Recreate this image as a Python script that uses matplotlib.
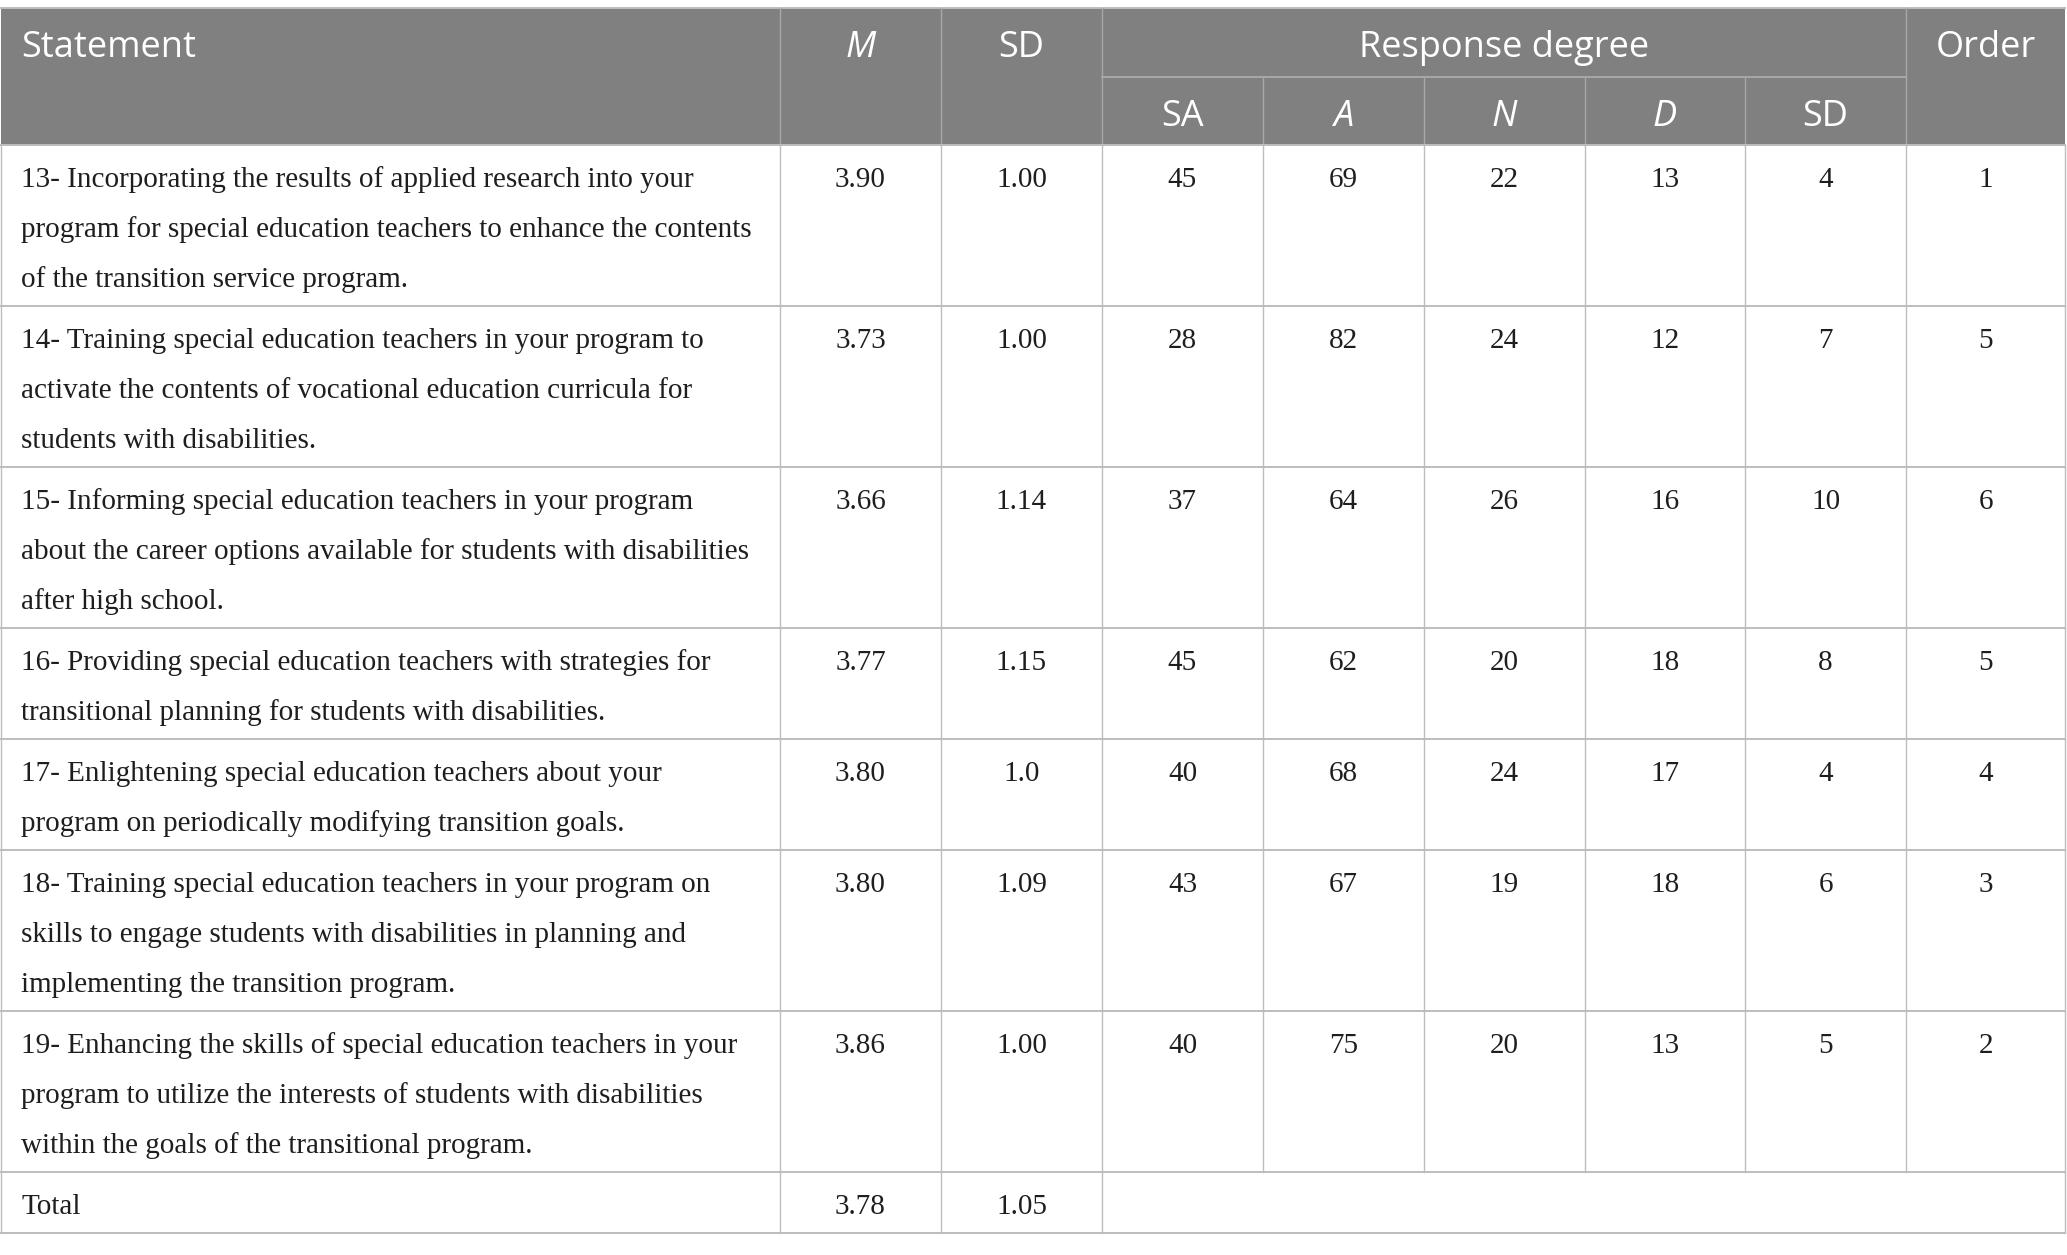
import matplotlib
matplotlib.use("Agg")
import matplotlib.pyplot as plt
from matplotlib.patches import Rectangle

# table content
statements = [
    ["13- Incorporating the results of applied research into your",
     "program for special education teachers to enhance the contents",
     "of the transition service program."],
    ["14- Training special education teachers in your program to",
     "activate the contents of vocational education curricula for",
     "students with disabilities."],
    ["15- Informing special education teachers in your program",
     "about the career options available for students with disabilities",
     "after high school."],
    ["16- Providing special education teachers with strategies for",
     "transitional planning for students with disabilities."],
    ["17- Enlightening special education teachers about your",
     "program on periodically modifying transition goals."],
    ["18- Training special education teachers in your program on",
     "skills to engage students with disabilities in planning and",
     "implementing the transition program."],
    ["19- Enhancing the skills of special education teachers in your",
     "program to utilize the interests of students with disabilities",
     "within the goals of the transitional program."],
]
means = ["3.90", "3.73", "3.66", "3.77", "3.80", "3.80", "3.86"]
sds = ["1.00", "1.00", "1.14", "1.15", "1.0", "1.09", "1.00"]
sa = [45, 28, 37, 45, 40, 43, 40]
agree = [69, 82, 64, 62, 68, 67, 75]
neutral = [22, 24, 26, 20, 24, 19, 20]
disagree = [13, 12, 16, 18, 17, 18, 13]
sdis = [4, 7, 10, 8, 4, 6, 5]
order = [1, 5, 6, 5, 4, 3, 2]
total_mean = "3.78"
total_sd = "1.05"

sub_headers = ["SA", "A", "N", "D", "SD"]
sub_italic = [False, True, True, True, False]

W, H = 2067, 1255
cols = [1, 780, 941, 1102, 1263, 1424, 1585, 1745, 1906, 2065]
header_top, header_mid, header_bot = 8, 77, 145
line_h = 50

HEAD_BG = "#7f807f"
HEAD_LINE = "#a8a8a8"
GRID = "#bdbdbd"
TXT = "#1e1e1e"
SANS = "Open Sans"
SERIF = "Liberation Serif"
hfs = 26
bfs = 21

fig = plt.figure(figsize=(W / 100, H / 100), dpi=100)
ax = fig.add_axes([0, 0, 1, 1])
ax.set_xlim(0, W)
ax.set_ylim(H, 0)
ax.axis("off")

# header block
ax.add_patch(Rectangle((cols[0], header_top), cols[-1] - cols[0], header_bot - header_top,
                       facecolor=HEAD_BG, edgecolor="none"))
ax.plot([cols[0], cols[-1]], [header_top, header_top], color=GRID, lw=1.4)
for x in [cols[1], cols[2], cols[3], cols[8]]:
    ax.plot([x, x], [header_top, header_bot], color=HEAD_LINE, lw=1.0)
for x in cols[4:8]:
    ax.plot([x, x], [header_mid, header_bot], color=HEAD_LINE, lw=1.0)
ax.plot([cols[3], cols[8]], [header_mid, header_mid], color=HEAD_LINE, lw=1.4)

def cx(i):
    return (cols[i] + cols[i + 1]) / 2

top_base = 57
sub_base = 126
ax.text(21, top_base, "Statement", color="white", fontsize=hfs, family=SANS, va="baseline")
ax.text(cx(1), top_base, "M", color="white", fontsize=hfs, family=SANS, style="italic",
        va="baseline", ha="center")
ax.text(cx(2), top_base, "SD", color="white", fontsize=hfs, family=SANS, va="baseline", ha="center")
ax.text((cols[3] + cols[8]) / 2, top_base, "Response degree", color="white", fontsize=hfs,
        family=SANS, va="baseline", ha="center")
ax.text(cx(8), top_base, "Order", color="white", fontsize=hfs, family=SANS, va="baseline", ha="center")
for k, (lab, it) in enumerate(zip(sub_headers, sub_italic)):
    ax.text(cx(3 + k), sub_base, lab, color="white", fontsize=hfs, family=SANS,
            style="italic" if it else "normal", va="baseline", ha="center")

# body rows
y = header_bot
ax.plot([cols[0], cols[-1]], [y, y], color=GRID, lw=1.4)
for i, lines in enumerate(statements):
    h = line_h * len(lines) + 11
    base = y + 42
    for j, ln in enumerate(lines):
        ax.text(21, base + j * line_h, ln, fontsize=bfs, family=SERIF, color=TXT, va="baseline")
    vals = [means[i], sds[i], sa[i], agree[i], neutral[i], disagree[i], sdis[i], order[i]]
    for k, v in enumerate(vals):
        ax.text(cx(k + 1), base, str(v), fontsize=bfs, family=SERIF, color=TXT,
                va="baseline", ha="center")
    for x in cols:
        ax.plot([x, x], [y, y + h], color=GRID, lw=1.0)
    y += h
    ax.plot([cols[0], cols[-1]], [y, y], color=GRID, lw=1.4)

# total row
h = line_h + 11
base = y + 42
ax.text(21, base, "Total", fontsize=bfs, family=SERIF, color=TXT, va="baseline")
ax.text(cx(1), base, total_mean, fontsize=bfs, family=SERIF, color=TXT, va="baseline", ha="center")
ax.text(cx(2), base, total_sd, fontsize=bfs, family=SERIF, color=TXT, va="baseline", ha="center")
for x in [cols[0], cols[1], cols[2], cols[3], cols[-1]]:
    ax.plot([x, x], [y, y + h], color=GRID, lw=1.0)
y += h
ax.plot([cols[0], cols[-1]], [y, y], color=GRID, lw=1.4)

fig.savefig("out.png", dpi=100)
